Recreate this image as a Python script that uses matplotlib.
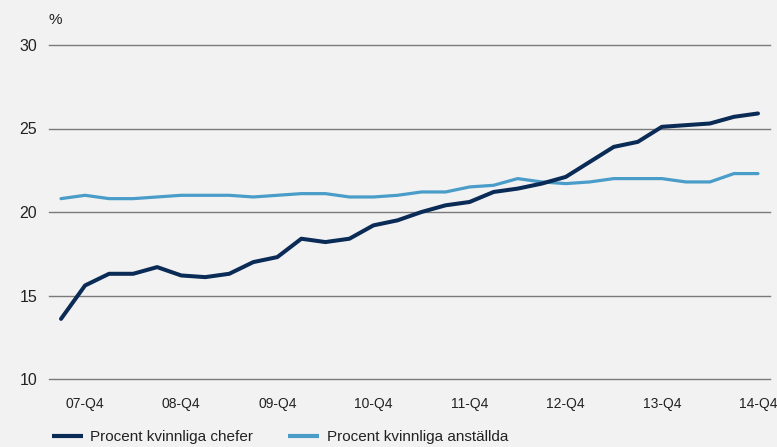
import matplotlib
matplotlib.use("Agg")
import matplotlib.pyplot as plt

plt.rcParams['font.family'] = ['Liberation Sans', 'DejaVu Sans']

# Quarterly data, 07-Q3 .. 14-Q4
chefer = [13.6, 15.6, 16.3, 16.3, 16.7, 16.2, 16.1, 16.3, 17.0, 17.3,
          18.4, 18.2, 18.4, 19.2, 19.5, 20.0, 20.4, 20.6, 21.2, 21.4,
          21.7, 22.1, 23.0, 23.9, 24.2, 25.1, 25.2, 25.3, 25.7, 25.9]
anstallda = [20.8, 21.0, 20.8, 20.8, 20.9, 21.0, 21.0, 21.0, 20.9, 21.0,
             21.1, 21.1, 20.9, 20.9, 21.0, 21.2, 21.2, 21.5, 21.6, 22.0,
             21.8, 21.7, 21.8, 22.0, 22.0, 22.0, 21.8, 21.8, 22.3, 22.3]
tick_idx = [1, 5, 9, 13, 17, 21, 25, 29]
tick_labels = ['07-Q4', '08-Q4', '09-Q4', '10-Q4', '11-Q4', '12-Q4', '13-Q4', '14-Q4']
yticks = [10, 15, 20, 25, 30]
series_names = ['Procent kvinnliga chefer', 'Procent kvinnliga anställda']

W, H = 777, 447
bg = '#f2f2f2'
fig = plt.figure(figsize=(W / 100, H / 100), dpi=100, facecolor=bg)
ax = fig.add_axes([49 / W, 1 - 379 / H, (770 - 49) / W, (379 - 45) / H], facecolor=bg)

x = list(range(len(chefer)))
l1, = ax.plot(x, chefer, color='#0b2b57', lw=2.9, solid_capstyle='round',
              solid_joinstyle='round', label=series_names[0], zorder=3)
l2, = ax.plot(x, anstallda, color='#4a9cc9', lw=2.3, solid_capstyle='round',
              solid_joinstyle='round', label=series_names[1], zorder=2)

ax.set_xlim(-0.5, 29.5)
ax.set_ylim(10, 30)
ax.set_yticks(yticks)
ax.set_yticklabels([str(v) for v in yticks], fontsize=11.5, color='#222222')
ax.set_xticks(tick_idx)
ax.set_xticklabels(tick_labels, fontsize=10, color='#222222')
ax.tick_params(axis='y', length=0, pad=8.5)
ax.tick_params(axis='x', length=0, pad=13)
for s in ax.spines.values():
    s.set_visible(False)
for v in yticks:
    ax.axhline(v, color='#7a7a7a', lw=1.0, zorder=1, clip_on=False)

fig.text(49 / W, 1 - 20 / H, '%', fontsize=11, color='#222222', va='center', ha='left')

leg = fig.legend(handles=[l1, l2], loc='center left', bbox_to_anchor=(52 / W, 1 - 437 / H),
                 ncol=2, frameon=False, fontsize=11, handlelength=2.0, handletextpad=0.5,
                 columnspacing=2.3, borderpad=0, borderaxespad=0)
for t in leg.get_texts():
    t.set_color('#222222')
for h in leg.legend_handles:
    h.set_linewidth(3.0)
    h.set_solid_capstyle('butt')

fig.savefig('out.png', dpi=100, facecolor=bg)
